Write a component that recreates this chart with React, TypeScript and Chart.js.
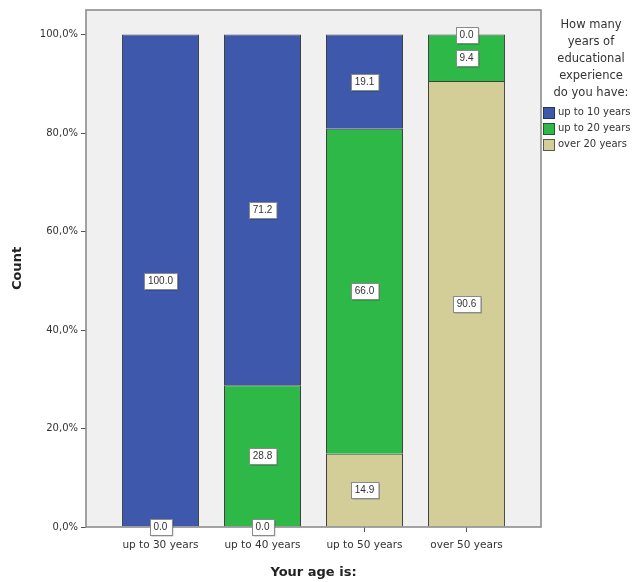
import React, { useEffect, useRef } from 'react';
import { Chart, registerables } from 'chart.js';

Chart.register(...registerables);

const categories = ['up to 30 years', 'up to 40 years', 'up to 50 years', 'over 50 years'];
const seriesNames = ['up to 10 years', 'up to 20 years', 'over 20 years'];
const upTo10 = [100.0, 71.2, 19.1, 0.0];
const upTo20: (number | null)[] = [null, 28.8, 66.0, 9.4];
const over20 = [0.0, 0.0, 14.9, 90.6];
const seriesColors = ['#3e58ac', '#2eb848', '#d3ce97'];
const legendTitle = ['How many', 'years of', 'educational', 'experience', 'do you have:'];
const xTitle = 'Your age is:';
const yTitle = 'Count';

const framePlugin = {
  id: 'spssFrame',
  beforeDraw(chart: any) {
    const { ctx, chartArea: a } = chart;
    ctx.save();
    ctx.fillStyle = '#f0f0f0';
    ctx.fillRect(a.left, a.top, a.right - a.left, a.bottom - a.top);
    ctx.restore();
  },
  afterDatasetsDraw(chart: any) {
    const { ctx, chartArea: a } = chart;
    ctx.save();
    ctx.strokeStyle = '#8c8c8c';
    ctx.lineWidth = 1.6;
    ctx.strokeRect(a.left, a.top, a.right - a.left, a.bottom - a.top);
    ctx.font = '10px "Liberation Sans", Arial, sans-serif';
    ctx.textAlign = 'center';
    ctx.textBaseline = 'middle';
    chart.data.datasets.forEach((ds: any, d: number) => {
      const meta = chart.getDatasetMeta(d);
      meta.data.forEach((el: any, i: number) => {
        const raw = ds.data[i];
        if (!raw || raw.y === null || raw.y === undefined) return;
        const text = raw.y.toFixed(1);
        const cx = el.x;
        const cy = (el.y + el.base) / 2;
        const w = ctx.measureText(text).width + 8;
        const h = 16;
        const x0 = Math.round(cx - w / 2) + 0.5;
        const y0 = Math.round(cy - h / 2) + 0.5;
        ctx.fillStyle = 'rgba(0,0,0,0.28)';
        ctx.fillRect(x0 + 1, y0 + 1, w, h);
        ctx.fillStyle = '#ffffff';
        ctx.fillRect(x0, y0, w, h);
        ctx.strokeStyle = '#8a8a8a';
        ctx.lineWidth = 1;
        ctx.strokeRect(x0, y0, w, h);
        ctx.fillStyle = '#333333';
        ctx.fillText(text, cx, cy + 0.5);
      });
    });
    ctx.restore();
  },
};

export default function App() {
  const canvasRef = useRef<HTMLCanvasElement>(null);

  useEffect(() => {
    const canvas = canvasRef.current;
    if (!canvas) return;
    const toPoints = (arr: (number | null)[]) => arr.map((v, i) => ({ x: i, y: v }));
    const stackBottomFirst = [
      { label: seriesNames[2], values: over20, color: seriesColors[2] },
      { label: seriesNames[1], values: upTo20, color: seriesColors[1] },
      { label: seriesNames[0], values: upTo10, color: seriesColors[0] },
    ];
    const chart = new Chart(canvas, {
      type: 'bar',
      data: {
        datasets: stackBottomFirst.map((s) => ({
          label: s.label,
          data: toPoints(s.values) as any,
          backgroundColor: s.color,
          borderColor: 'rgba(20,20,20,0.8)',
          borderWidth: 1,
          barPercentage: 0.755,
          categoryPercentage: 1,
        })),
      },
      options: {
        responsive: false,
        animation: false,
        layout: { padding: { left: 0, top: 10, right: 102, bottom: 0 } },
        plugins: {
          legend: { display: false },
          tooltip: { enabled: false },
        },
        scales: {
          x: {
            type: 'linear',
            stacked: true,
            offset: false,
            min: -0.73,
            max: 3.73,
            afterFit: (s: any) => {
              s.height = 55;
            },
            border: { display: false },
            grid: { offset: false, drawOnChartArea: false, drawTicks: true, tickLength: 5, color: '#555555' },
            ticks: {
              stepSize: 1,
              includeBounds: false,
              autoSkip: false,
              maxRotation: 0,
              padding: 7,
              color: '#333333',
              font: { family: '"DejaVu Sans", sans-serif', size: 10.5 },
              callback: (v: any) => categories[v as number] ?? '',
            },
            title: {
              display: true,
              text: xTitle,
              color: '#222222',
              font: { family: '"DejaVu Sans", sans-serif', size: 13, weight: 'bold' },
              padding: { top: 0, bottom: 2 },
            },
          },
          y: {
            stacked: true,
            min: 0,
            max: 105,
            afterFit: (s: any) => {
              s.width = 86;
            },
            border: { display: false },
            grid: { drawOnChartArea: false, drawTicks: true, tickLength: 5, color: '#555555' },
            ticks: {
              stepSize: 20,
              includeBounds: false,
              padding: 3,
              color: '#333333',
              font: { family: '"DejaVu Sans", sans-serif', size: 10 },
              callback: (v: any) => Number(v).toFixed(1).replace('.', ',') + '%',
            },
            title: {
              display: true,
              text: yTitle,
              color: '#222222',
              font: { family: '"DejaVu Sans", sans-serif', size: 13, weight: 'bold' },
              padding: { top: 10, bottom: 0 },
            },
          },
        },
      } as any,
      plugins: [framePlugin],
    });
    return () => chart.destroy();
  }, []);

  const legendItemCenters = [112, 128, 144];

  return (
    <div style={{ position: 'absolute', left: 0, top: 0, width: 643, height: 582, background: '#ffffff' }}>
      <canvas ref={canvasRef} width={643} height={582} style={{ display: 'block' }} />
      <div
        style={{
          position: 'absolute',
          left: 541,
          top: 16,
          width: 100,
          textAlign: 'center',
          fontFamily: '"DejaVu Sans", sans-serif',
          fontSize: 11.5,
          lineHeight: '17px',
          color: '#333333',
        }}
      >
        {legendTitle.map((t) => (
          <div key={t}>{t}</div>
        ))}
      </div>
      {seriesNames.map((name, i) => (
        <div key={name}>
          <div
            style={{
              position: 'absolute',
              left: 543,
              top: legendItemCenters[i] - 5.5,
              width: 10,
              height: 10,
              background: seriesColors[i],
              border: '1px solid rgba(40,40,40,0.7)',
            }}
          />
          <div
            style={{
              position: 'absolute',
              left: 558,
              top: legendItemCenters[i] - 8,
              lineHeight: '16px',
              fontFamily: '"DejaVu Sans", sans-serif',
              fontSize: 10,
              color: '#333333',
              whiteSpace: 'nowrap',
            }}
          >
            {name}
          </div>
        </div>
      ))}
    </div>
  );
}
